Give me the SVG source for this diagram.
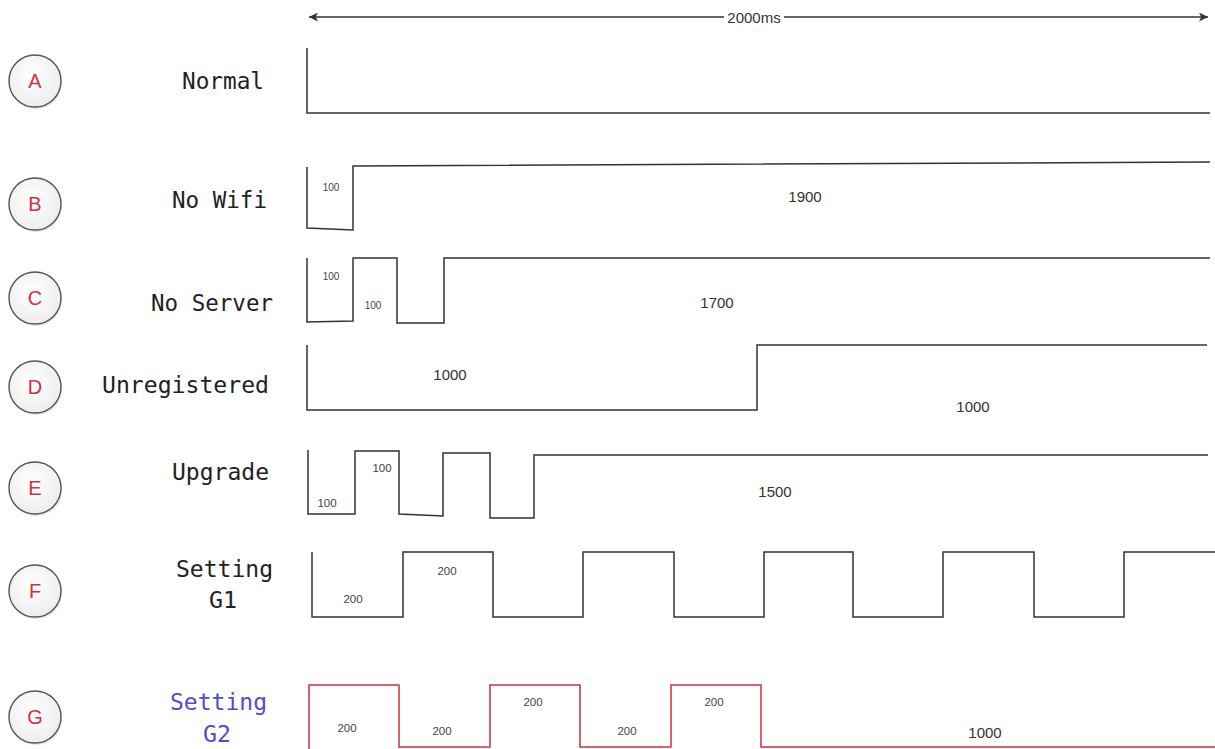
<svg xmlns="http://www.w3.org/2000/svg" width="1215" height="749" viewBox="0 0 1215 749">
<style>
.bg{fill:#ffffff}
.circ{fill:url(#cg);stroke:#555;stroke-width:1.4}
.shadow{fill:#e6e6e6}
.let{font-family:"Liberation Sans",Arial,sans-serif;font-size:20px;fill:#d2303e;text-anchor:middle}
.lbl{font-family:"DejaVu Sans Mono","Liberation Mono",monospace;font-size:23px;fill:#222}
.blue{fill:#4f4fc8}
.wave{fill:none;stroke:#333;stroke-width:1.5;stroke-linejoin:miter}
.red{stroke:#c8323e}
.sm{font-family:"Liberation Sans",Arial,sans-serif;font-size:10px;fill:#444;text-anchor:middle}
.md{font-family:"Liberation Sans",Arial,sans-serif;font-size:11.5px;fill:#444;text-anchor:middle}
.lg{font-family:"Liberation Sans",Arial,sans-serif;font-size:15px;fill:#333;text-anchor:middle}
.dim{stroke:#333;stroke-width:1.5;fill:none}
</style>
<defs>
<radialGradient id="cg" cx="0.45" cy="0.4" r="0.65">
<stop offset="0" stop-color="#ffffff"/>
<stop offset="1" stop-color="#ececec"/>
</radialGradient>
<marker id="ah" viewBox="0 0 10 10" refX="10" refY="5" markerWidth="9" markerHeight="9" markerUnits="userSpaceOnUse" orient="auto-start-reverse">
<path d="M0,0 L10,5 L0,10 L2.5,5 Z" fill="#333"/>
</marker>
</defs>
<rect class="bg" x="0" y="0" width="1215" height="749"/>

<g id="dimension">
<line class="dim" x1="309" y1="17" x2="1208" y2="17" marker-start="url(#ah)" marker-end="url(#ah)"/>
<rect x="724" y="8" width="60" height="18" fill="#fff"/>
<text x="754" y="23" font-family="Liberation Sans,Arial,sans-serif" font-size="15" fill="#333" text-anchor="middle">2000ms</text>
</g>

<g id="node-A">
<circle class="shadow" cx="36" cy="83" r="26"/>
<circle class="circ" cx="35" cy="81" r="26"/>
<text class="let" x="35" y="88">A</text>
<text class="lbl" x="182" y="89" textLength="82" lengthAdjust="spacingAndGlyphs">Normal</text>
</g>
<g id="node-B">
<circle class="shadow" cx="36" cy="206" r="26"/>
<circle class="circ" cx="35" cy="204" r="26"/>
<text class="let" x="35" y="211">B</text>
<text class="lbl" x="172" y="208" textLength="95" lengthAdjust="spacingAndGlyphs">No Wifi</text>
</g>
<g id="node-C">
<circle class="shadow" cx="36" cy="300" r="26"/>
<circle class="circ" cx="35" cy="298" r="26"/>
<text class="let" x="35" y="305">C</text>
<text class="lbl" x="151" y="311" textLength="122" lengthAdjust="spacingAndGlyphs">No Server</text>
</g>
<g id="node-D">
<circle class="shadow" cx="36" cy="389" r="26"/>
<circle class="circ" cx="35" cy="387" r="26"/>
<text class="let" x="35" y="394">D</text>
<text class="lbl" x="102" y="393" textLength="167" lengthAdjust="spacingAndGlyphs">Unregistered</text>
</g>
<g id="node-E">
<circle class="shadow" cx="36" cy="490" r="26"/>
<circle class="circ" cx="35" cy="488" r="26"/>
<text class="let" x="35" y="495">E</text>
<text class="lbl" x="172" y="480" textLength="97" lengthAdjust="spacingAndGlyphs">Upgrade</text>
</g>
<g id="node-F">
<circle class="shadow" cx="36" cy="593" r="26"/>
<circle class="circ" cx="35" cy="591" r="26"/>
<text class="let" x="35" y="598">F</text>
<text class="lbl" x="176" y="577" textLength="97" lengthAdjust="spacingAndGlyphs">Setting</text>
<text class="lbl" x="209" y="608" textLength="28" lengthAdjust="spacingAndGlyphs">G1</text>
</g>
<g id="node-G">
<circle class="shadow" cx="36" cy="719" r="26"/>
<circle class="circ" cx="35" cy="717" r="26"/>
<text class="let" x="35" y="724">G</text>
<text class="lbl blue" x="170" y="710" textLength="97" lengthAdjust="spacingAndGlyphs">Setting</text>
<text class="lbl blue" x="203" y="742" textLength="28" lengthAdjust="spacingAndGlyphs">G2</text>
</g>

<g id="connectors">
<path id="wave-A" class="wave" d="M307,48 V113 H1210"/>
<path id="wave-B" class="wave" d="M307,167 V228 L353,230 V166 L1210,162"/>
<path id="wave-C" class="wave" d="M307,258 V322 L353,321 V258 H397 V323 H444 V258 H1210"/>
<path id="wave-D" class="wave" d="M307,345 V410 H757 V345 H1207"/>
<path id="wave-E" class="wave" d="M308,450 V514 H355 V451 H399 V514 L443,516 V453 H490 V518 H534 V455 H1208"/>
<path id="wave-F" class="wave" d="M312,552 V617 H403 V552 H493 V617 H583 V552 H674 V617 H764 V552 H853 V617 H943 V552 H1034 V617 H1124 V552 H1215"/>
<path id="wave-G" class="wave red" d="M309,749 V685 H399 V747 H490 V685 H580 V747 H671 V685 H761 V747 H1215"/>
</g>

<g id="durations">
<text class="sm" x="331" y="191">100</text>
<text class="lg" x="805" y="202">1900</text>
<text class="sm" x="331" y="280">100</text>
<text class="sm" x="373" y="309">100</text>
<text class="lg" x="717" y="308">1700</text>
<text class="lg" x="450" y="380">1000</text>
<text class="lg" x="973" y="412">1000</text>
<text class="md" x="327" y="507">100</text>
<text class="md" x="382" y="472">100</text>
<text class="lg" x="775" y="497">1500</text>
<text class="md" x="353" y="603">200</text>
<text class="md" x="447" y="575">200</text>
<text class="md" x="347" y="732">200</text>
<text class="md" x="442" y="735">200</text>
<text class="md" x="533" y="706">200</text>
<text class="md" x="627" y="735">200</text>
<text class="md" x="714" y="706">200</text>
<text class="lg" x="985" y="738">1000</text>
</g>
</svg>
